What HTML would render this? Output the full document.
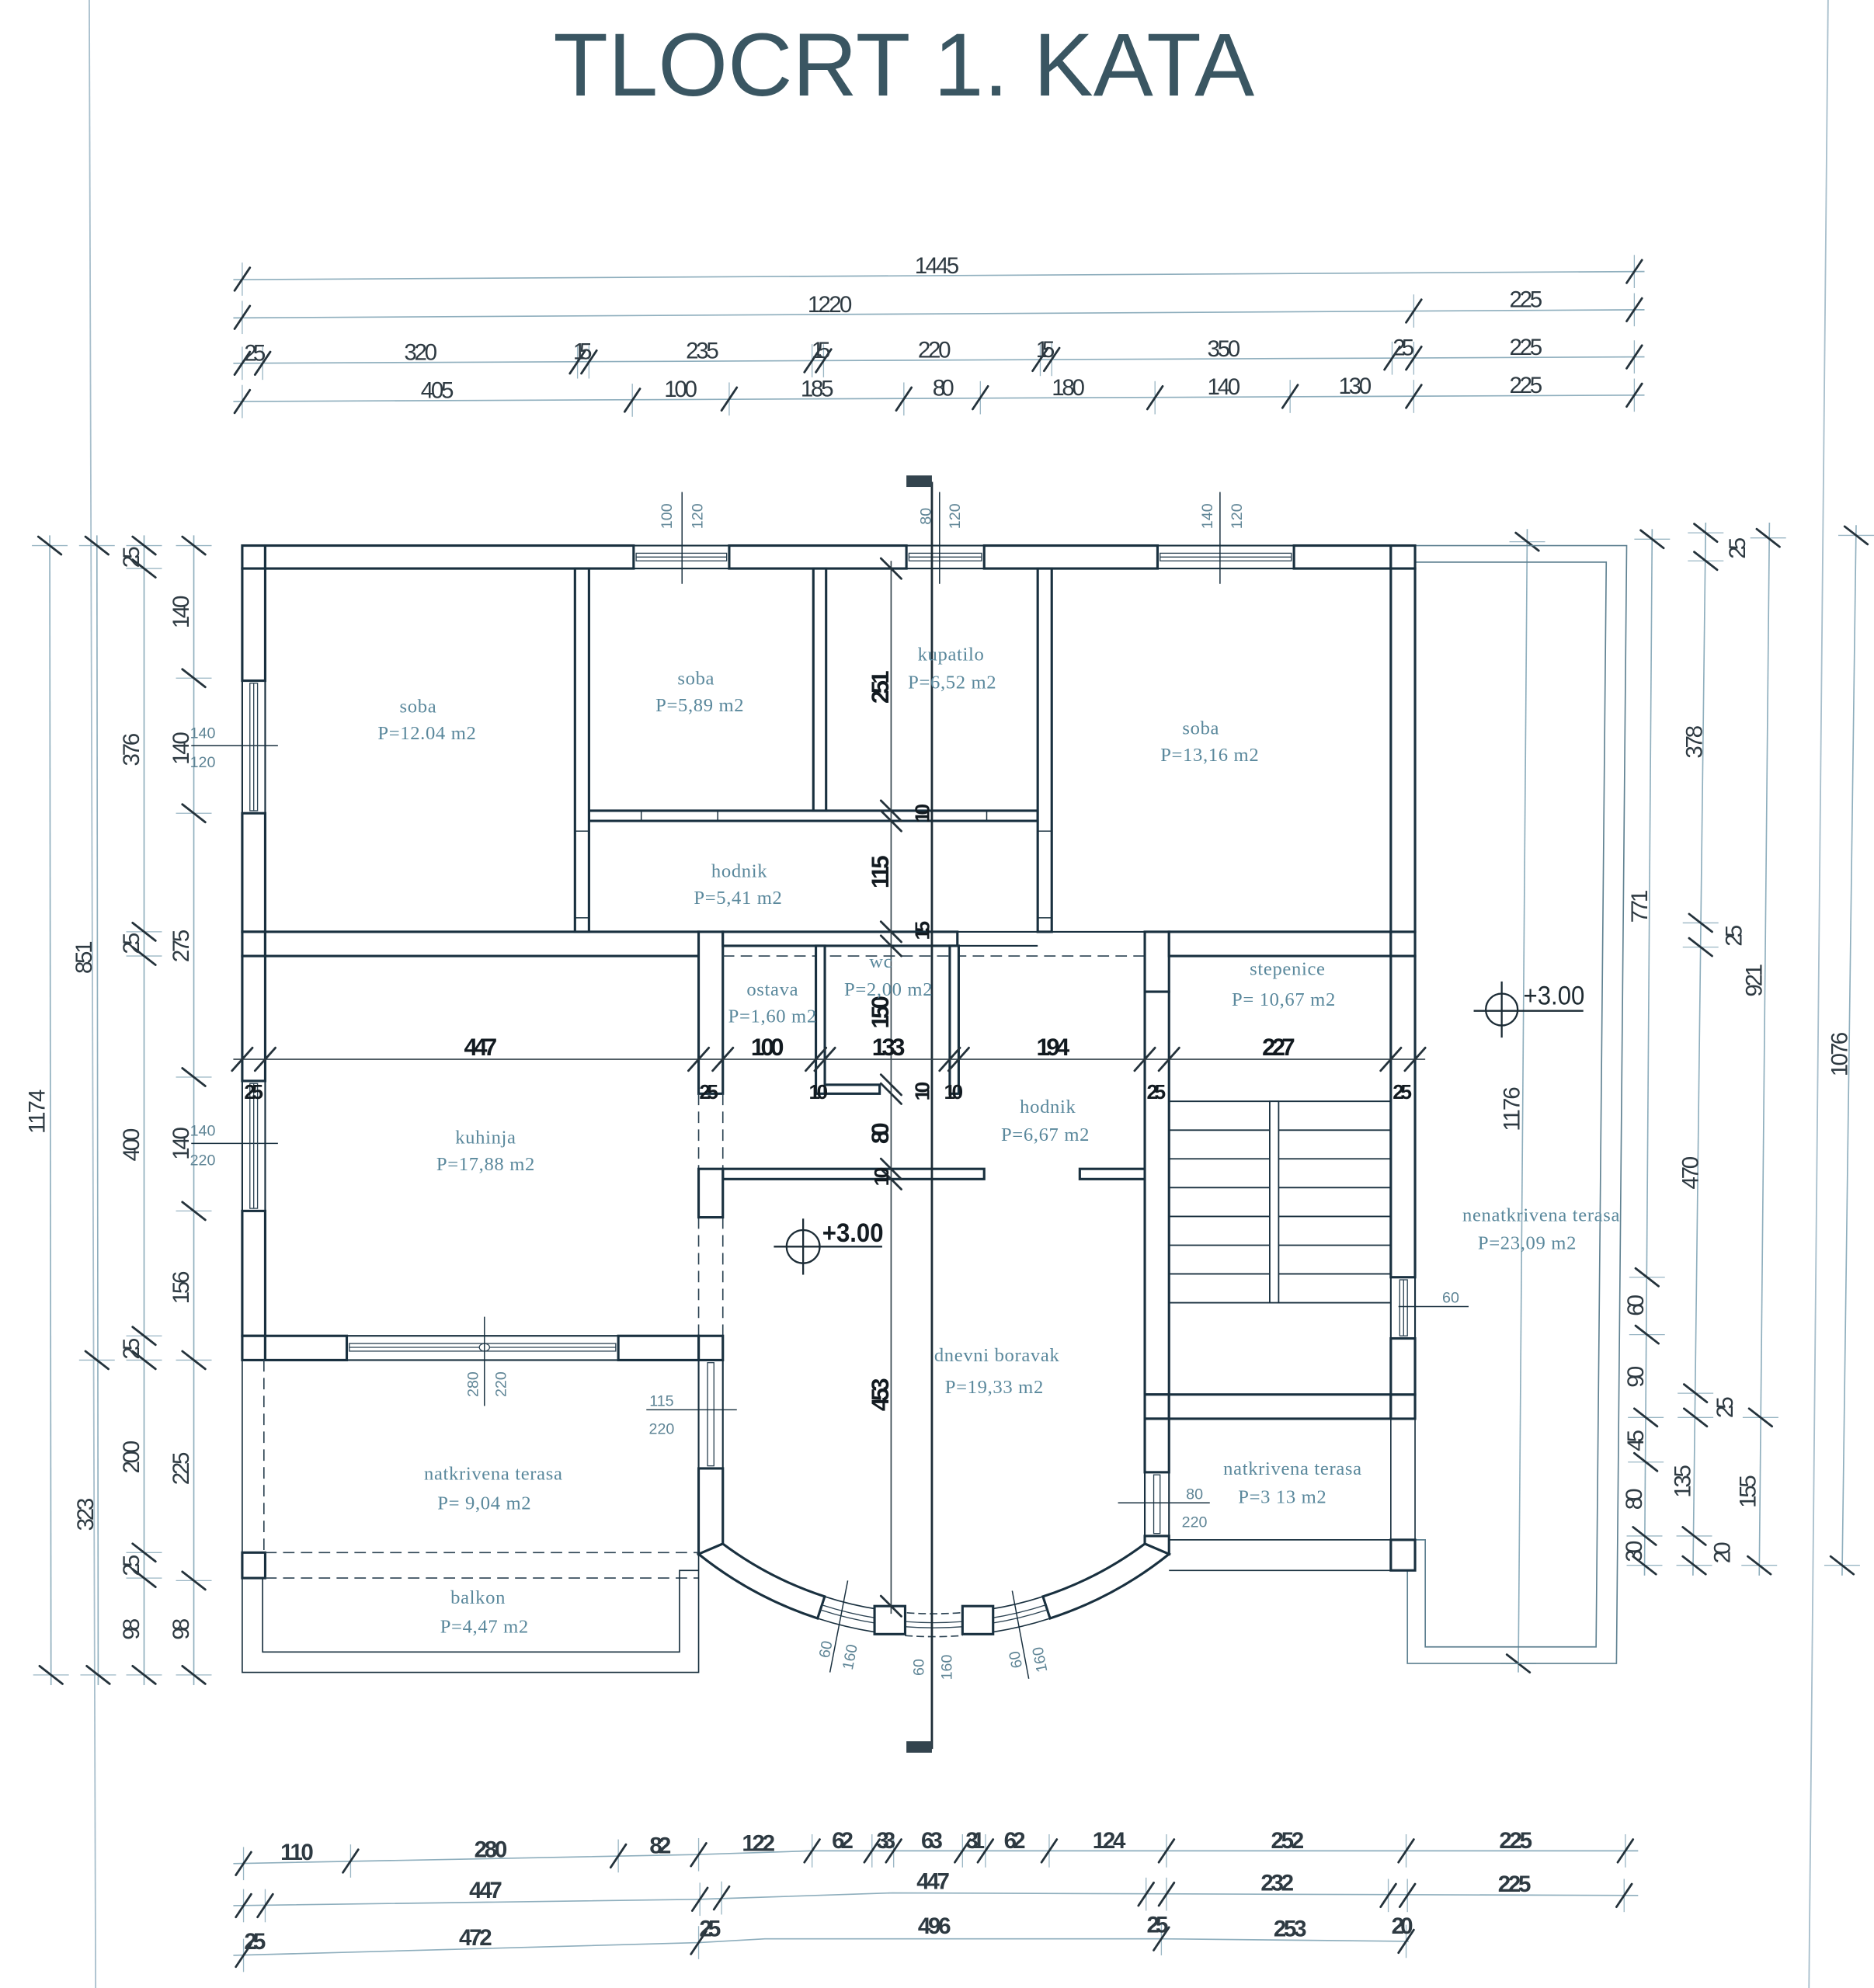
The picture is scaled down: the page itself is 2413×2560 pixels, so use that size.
<!DOCTYPE html>
<html><head><meta charset="utf-8"><title>TLOCRT 1. KATA</title>
<style>
html,body{margin:0;padding:0;background:#fff;width:2413px;height:2560px;overflow:hidden}
svg{display:block}
.fr{stroke:#a8bfcc;stroke-width:1.1;fill:none}
.dm{stroke:#8eaebd;stroke-width:1;fill:none}
.dk{stroke:#34434c;stroke-width:1;fill:none}
.ex{stroke:#9ab6c4;stroke-width:0.8}
.tk{stroke:#24323b;stroke-width:1.7;stroke-linecap:round}
.w{fill:#fff;stroke:#19303f;stroke-width:1.9}
.l{fill:none;stroke:#19303f;stroke-width:1.3}
.sa{fill:none;stroke:#2b4252;stroke-width:0.8}
.ds{fill:none;stroke:#2b4252;stroke-width:1;stroke-dasharray:9 5}
.tl{fill:none;stroke:#5f8191;stroke-width:1}
.n{font-family:"Liberation Sans Narrow","Liberation Sans",sans-serif;font-size:18px;fill:#2e3a42;text-anchor:middle}
.b{font-family:"Liberation Sans Narrow","Liberation Sans",sans-serif;font-size:19px;font-weight:bold;fill:#121a20;text-anchor:middle}
.bs{font-family:"Liberation Sans Narrow","Liberation Sans",sans-serif;font-size:16px;font-weight:bold;fill:#121a20;text-anchor:middle}
.r{font-family:"Liberation Serif",serif;font-size:15px;fill:#5a889c;text-anchor:middle;letter-spacing:0.4px}
.sm{font-family:"Liberation Sans",sans-serif;font-size:12px;fill:#5f8596;text-anchor:middle}
</style></head><body>
<svg xmlns="http://www.w3.org/2000/svg" width="2413" height="2560" viewBox="0 0 1470 1559.6">
<defs>
<g id="th"><line class="ex" x1="0" y1="-13" x2="0" y2="13"/><line class="tk" x1="-6" y1="9" x2="6" y2="-9"/></g>
<g id="tv"><line class="ex" x1="-14" y1="0" x2="14" y2="0"/><line class="tk" x1="-9" y1="-7" x2="9" y2="7"/></g>
<g id="tp"><line class="tk" x1="-8" y1="9" x2="8" y2="-9"/></g>
<g id="tq"><line class="tk" x1="-8" y1="-8" x2="8" y2="8"/></g>
</defs>
<rect x="0" y="0" width="1470" height="1560" fill="#fff"/>

<!-- page frame -->
<line class="fr" x1="70" y1="0" x2="75" y2="1560"/>
<line class="fr" x1="1434" y1="0" x2="1419" y2="1560"/>

<!-- title -->
<text x="434" y="75" font-family="Liberation Sans, sans-serif" font-size="70" fill="#3a5662" textLength="550" lengthAdjust="spacingAndGlyphs">TLOCRT 1. KATA</text>

<!-- ============ TOP DIMENSIONS ============ -->
<line class="dm" x1="183" y1="219.4" x2="1290" y2="213"/>
<line class="dm" x1="183" y1="249.4" x2="1290" y2="243"/>
<line class="dm" x1="183" y1="285" x2="1290" y2="280"/>
<line class="dm" x1="183" y1="315" x2="1290" y2="310"/>
<use href="#th" x="190" y="219"/><use href="#th" x="1282" y="213"/>
<use href="#th" x="190" y="249"/><use href="#th" x="1109" y="244"/><use href="#th" x="1282" y="243"/>
<use href="#th" x="190" y="285"/><use href="#th" x="206" y="285"/><use href="#th" x="453" y="284"/><use href="#th" x="462" y="284"/><use href="#th" x="637" y="283"/><use href="#th" x="646" y="283"/><use href="#th" x="816" y="282"/><use href="#th" x="825" y="282"/><use href="#th" x="1092" y="281"/><use href="#th" x="1109" y="281"/><use href="#th" x="1282" y="280"/>
<use href="#th" x="190" y="315"/><use href="#th" x="496" y="314"/><use href="#th" x="572" y="313"/><use href="#th" x="709" y="313"/><use href="#th" x="769" y="312"/><use href="#th" x="906" y="312"/><use href="#th" x="1012" y="311"/><use href="#th" x="1109" y="311"/><use href="#th" x="1282" y="310"/>
<text class="n" x="735" y="214.5" textLength="35">1445</text>
<text class="n" x="651" y="245" textLength="35">1220</text>
<text class="n" x="1197" y="241" textLength="26">225</text>
<text class="n" x="200" y="283" textLength="17">25</text>
<text class="n" x="330" y="282.5" textLength="26">320</text>
<text class="n" x="457" y="281.8" textLength="15">15</text>
<text class="n" x="551" y="281.3" textLength="26">235</text>
<text class="n" x="644" y="281" textLength="15">15</text>
<text class="n" x="733" y="280.5" textLength="26">220</text>
<text class="n" x="820" y="280.1" textLength="15">15</text>
<text class="n" x="960" y="279.5" textLength="26">350</text>
<text class="n" x="1101" y="278.8" textLength="17">25</text>
<text class="n" x="1197" y="278.4" textLength="26">225</text>
<text class="n" x="343" y="312.3" textLength="26">405</text>
<text class="n" x="534" y="311.4" textLength="26">100</text>
<text class="n" x="641" y="311" textLength="26">185</text>
<text class="n" x="740" y="310.5" textLength="17">80</text>
<text class="n" x="838" y="310" textLength="26">180</text>
<text class="n" x="960" y="309.5" textLength="26">140</text>
<text class="n" x="1063" y="309" textLength="26">130</text>
<text class="n" x="1197" y="308.4" textLength="26">225</text>

<!-- ============ LEFT DIMENSIONS ============ -->
<line class="dm" x1="39" y1="420" x2="40" y2="1322"/>
<line class="dm" x1="76" y1="420" x2="77" y2="1322"/>
<line class="dm" x1="113" y1="420" x2="113" y2="1322"/>
<line class="dm" x1="152" y1="420" x2="152" y2="1322"/>
<use href="#tv" x="39" y="428"/><use href="#tv" x="40" y="1314"/>
<use href="#tv" x="76" y="428"/><use href="#tv" x="76" y="1067"/><use href="#tv" x="77" y="1314"/>
<use href="#tv" x="113" y="428"/><use href="#tv" x="113" y="446"/><use href="#tv" x="113" y="731"/><use href="#tv" x="113" y="750"/><use href="#tv" x="113" y="1048"/><use href="#tv" x="113" y="1067"/><use href="#tv" x="113" y="1218"/><use href="#tv" x="113" y="1238"/><use href="#tv" x="113" y="1314"/>
<use href="#tv" x="152" y="428"/><use href="#tv" x="152" y="532"/><use href="#tv" x="152" y="638"/><use href="#tv" x="152" y="845"/><use href="#tv" x="152" y="950"/><use href="#tv" x="152" y="1067"/><use href="#tv" x="152" y="1240"/><use href="#tv" x="152" y="1314"/>
<text class="n" textLength="35" transform="translate(35,872) rotate(-90)">1174</text>
<text class="n" textLength="26" transform="translate(72,751) rotate(-90)">851</text>
<text class="n" textLength="26" transform="translate(73,1188) rotate(-90)">323</text>
<text class="n" textLength="17" transform="translate(109,437) rotate(-90)">25</text>
<text class="n" textLength="26" transform="translate(109,588) rotate(-90)">376</text>
<text class="n" textLength="17" transform="translate(109,740) rotate(-90)">25</text>
<text class="n" textLength="26" transform="translate(109,898) rotate(-90)">400</text>
<text class="n" textLength="17" transform="translate(109,1058) rotate(-90)">25</text>
<text class="n" textLength="26" transform="translate(109,1143) rotate(-90)">200</text>
<text class="n" textLength="17" transform="translate(109,1228) rotate(-90)">25</text>
<text class="n" textLength="17" transform="translate(109,1278) rotate(-90)">98</text>
<text class="n" textLength="26" transform="translate(148,480) rotate(-90)">140</text>
<text class="n" textLength="26" transform="translate(148,587) rotate(-90)">140</text>
<text class="n" textLength="26" transform="translate(148,742) rotate(-90)">275</text>
<text class="n" textLength="26" transform="translate(148,897) rotate(-90)">140</text>
<text class="n" textLength="26" transform="translate(148,1010) rotate(-90)">156</text>
<text class="n" textLength="26" transform="translate(148,1152) rotate(-90)">225</text>
<text class="n" textLength="17" transform="translate(148,1278) rotate(-90)">98</text>
<!-- left window small dims -->
<line class="l" x1="150" y1="585" x2="218" y2="585" style="stroke-width:0.9"/>
<text class="sm" x="159" y="579">140</text><text class="sm" x="159" y="602">120</text>
<line class="l" x1="150" y1="897" x2="218" y2="897" style="stroke-width:0.9"/>
<text class="sm" x="159" y="891">140</text><text class="sm" x="159" y="914">220</text>

<!-- ============ RIGHT DIMENSIONS ============ -->
<line class="dm" x1="1198" y1="415" x2="1191" y2="1312"/>
<use href="#tv" x="1198" y="425"/><use href="#tv" x="1191" y="1305"/>
<text class="n" textLength="35" transform="translate(1192,870) rotate(-90)">1176</text>
<line class="dm" x1="1296" y1="415" x2="1290" y2="1236"/>
<use href="#tv" x="1296" y="423"/><use href="#tv" x="1292" y="1002"/><use href="#tv" x="1292" y="1047"/><use href="#tv" x="1291" y="1112"/><use href="#tv" x="1291" y="1147"/><use href="#tv" x="1290" y="1205"/><use href="#tv" x="1290" y="1228"/>
<text class="n" textLength="26" transform="translate(1292,711) rotate(-90)">771</text>
<text class="n" textLength="17" transform="translate(1289,1024) rotate(-90)">60</text>
<text class="n" textLength="17" transform="translate(1289,1080) rotate(-90)">90</text>
<text class="n" textLength="17" transform="translate(1289,1130) rotate(-90)">45</text>
<text class="n" textLength="17" transform="translate(1288,1176) rotate(-90)">80</text>
<text class="n" textLength="17" transform="translate(1288,1217) rotate(-90)">30</text>
<line class="dm" x1="1338" y1="410" x2="1328" y2="1236"/>
<use href="#tv" x="1338" y="418"/><use href="#tv" x="1338" y="440"/><use href="#tv" x="1334" y="724"/><use href="#tv" x="1334" y="743"/><use href="#tv" x="1330" y="1093"/><use href="#tv" x="1330" y="1112"/><use href="#tv" x="1329" y="1205"/><use href="#tv" x="1329" y="1228"/>
<text class="n" textLength="17" transform="translate(1369,430) rotate(-90)">25</text>
<text class="n" textLength="26" transform="translate(1335,582) rotate(-90)">378</text>
<text class="n" textLength="17" transform="translate(1366,734) rotate(-90)">25</text>
<text class="n" textLength="26" transform="translate(1332,920) rotate(-90)">470</text>
<text class="n" textLength="17" transform="translate(1359,1104) rotate(-90)">25</text>
<text class="n" textLength="26" transform="translate(1326,1162) rotate(-90)">135</text>
<text class="n" textLength="17" transform="translate(1357,1218) rotate(-90)">20</text>
<line class="dm" x1="1388" y1="410" x2="1380" y2="1236"/>
<use href="#tv" x="1387" y="422"/><use href="#tv" x="1381" y="1112"/><use href="#tv" x="1380" y="1228"/>
<text class="n" textLength="26" transform="translate(1382,769) rotate(-90)">921</text>
<text class="n" textLength="26" transform="translate(1377,1170) rotate(-90)">155</text>
<line class="dm" x1="1456" y1="412" x2="1445" y2="1236"/>
<use href="#tv" x="1456" y="420"/><use href="#tv" x="1445" y="1228"/>
<text class="n" textLength="35" transform="translate(1449,827) rotate(-90)">1076</text>

<!-- ============ BOTTOM DIMENSIONS ============ -->
<polyline class="dm" points="183,1462 544,1455 636,1452 1285,1452"/>
<polyline class="dm" points="183,1495 549,1490 700,1485 1285,1487"/>
<polyline class="dm" points="183,1534 548,1524 600,1521 911,1521 1105,1523"/>
<use href="#th" x="191" y="1462"/><use href="#th" x="275" y="1460"/><use href="#th" x="485" y="1456"/><use href="#th" x="548" y="1455"/><use href="#th" x="637" y="1452"/><use href="#th" x="684" y="1452"/><use href="#th" x="701" y="1452"/><use href="#th" x="755" y="1452"/><use href="#th" x="773" y="1452"/><use href="#th" x="823" y="1452"/><use href="#th" x="915" y="1452"/><use href="#th" x="1103" y="1452"/><use href="#th" x="1275" y="1452"/>
<use href="#th" x="191" y="1495"/><use href="#th" x="208" y="1495"/><use href="#th" x="549" y="1490"/><use href="#th" x="566" y="1489"/><use href="#th" x="899" y="1486"/><use href="#th" x="915" y="1486"/><use href="#th" x="1089" y="1487"/><use href="#th" x="1104" y="1487"/><use href="#th" x="1274" y="1487"/>
<use href="#th" x="191" y="1534"/><use href="#th" x="548" y="1524"/><use href="#th" x="911" y="1521"/><use href="#th" x="1103" y="1523"/>
<g style="font-weight:bold">
<text class="n" x="233" y="1459" textLength="26">110</text>
<text class="n" x="385" y="1457" textLength="26">280</text>
<text class="n" x="518" y="1454" textLength="17">82</text>
<text class="n" x="595" y="1452" textLength="26">122</text>
<text class="n" x="661" y="1450" textLength="17">62</text>
<text class="n" x="695" y="1450" textLength="15">33</text>
<text class="n" x="731" y="1450" textLength="17">63</text>
<text class="n" x="765" y="1450" textLength="15">31</text>
<text class="n" x="796" y="1450" textLength="17">62</text>
<text class="n" x="870" y="1450" textLength="26">124</text>
<text class="n" x="1010" y="1450" textLength="26">252</text>
<text class="n" x="1189" y="1450" textLength="26">225</text>
<text class="n" x="381" y="1489" textLength="26">447</text>
<text class="n" x="732" y="1482" textLength="26">447</text>
<text class="n" x="1002" y="1483" textLength="26">232</text>
<text class="n" x="1188" y="1484" textLength="26">225</text>
<text class="n" x="200" y="1529" textLength="17">25</text>
<text class="n" x="373" y="1526" textLength="26">472</text>
<text class="n" x="557" y="1519" textLength="17">25</text>
<text class="n" x="733" y="1517" textLength="26">496</text>
<text class="n" x="908" y="1516" textLength="17">25</text>
<text class="n" x="1012" y="1519" textLength="26">253</text>
<text class="n" x="1100" y="1517" textLength="17">20</text>
</g>

<!-- ============ TERRACE OUTLINE (right) ============ -->
<polyline class="tl" points="1110,428 1276,428 1268,1305 1104,1305 1104,1232"/>
<polyline class="tl" points="1110,441 1260,441 1252,1292 1118,1292 1118,1208 1110,1208"/>

<!-- ============ BUILDING ============ -->
<path class="l" d="M190 428H1110 M208 446H1091 M190 428V1067 M208 446V1048 M1110 428V1113 M1091 446V1094"/>
<!-- top wall -->
<rect class="w" x="190" y="428" width="18" height="18"/>
<rect class="w" x="208" y="428" width="289" height="18"/>
<rect class="w" x="572" y="428" width="139" height="18"/>
<rect class="w" x="772" y="428" width="136" height="18"/>
<rect class="w" x="1015" y="428" width="76" height="18"/>
<rect class="w" x="1091" y="428" width="19" height="18"/>
<rect class="sa" x="499" y="434" width="71" height="6"/><line class="sa" x1="499" y1="437" x2="570" y2="437"/>
<rect class="sa" x="713" y="434" width="57" height="6"/><line class="sa" x1="713" y1="437" x2="770" y2="437"/>
<rect class="sa" x="910" y="434" width="103" height="6"/><line class="sa" x1="910" y1="437" x2="1013" y2="437"/>
<!-- top window dims -->
<line class="l" x1="535" y1="386" x2="535" y2="458" style="stroke-width:0.9"/>
<line class="l" x1="737" y1="386" x2="737" y2="458" style="stroke-width:0.9"/>
<line class="l" x1="957" y1="386" x2="957" y2="458" style="stroke-width:0.9"/>
<text class="sm" transform="translate(527,405) rotate(-90)">100</text>
<text class="sm" transform="translate(551,405) rotate(-90)">120</text>
<text class="sm" transform="translate(730,405) rotate(-90)">80</text>
<text class="sm" transform="translate(753,405) rotate(-90)">120</text>
<text class="sm" transform="translate(951,405) rotate(-90)">140</text>
<text class="sm" transform="translate(974,405) rotate(-90)">120</text>

<!-- left wall -->
<rect class="w" x="190" y="446" width="18" height="88"/>
<rect class="w" x="190" y="638" width="18" height="93"/>
<rect class="w" x="190" y="731" width="18" height="19"/>
<rect class="w" x="190" y="750" width="18" height="98"/>
<rect class="w" x="190" y="950" width="18" height="98"/>
<rect class="w" x="190" y="1048" width="18" height="19"/>
<rect class="sa" x="196" y="536" width="6" height="100"/><line class="sa" x1="199" y1="536" x2="199" y2="636"/>
<rect class="sa" x="196" y="850" width="6" height="98"/><line class="sa" x1="199" y1="850" x2="199" y2="948"/>

<!-- main horizontal wall -->
<rect class="w" x="208" y="731" width="340" height="19"/>
<rect class="w" x="548" y="731" width="19" height="127"/>
<path class="l" d="M567 731H898 M567 742H814"/>
<rect class="w" x="567" y="731" width="184" height="11"/>
<line class="ds" x1="567" y1="750" x2="898" y2="750"/>
<rect class="w" x="898" y="731" width="19" height="47"/>
<rect class="w" x="917" y="731" width="174" height="19"/>
<rect class="w" x="1091" y="731" width="19" height="19"/>

<!-- interior walls upper -->
<rect class="w" x="462" y="636" width="352" height="8"/>
<path class="l" d="M503 636V644 M563 636V644 M774 636V644" style="stroke-width:0.9"/>
<rect class="w" x="451" y="446" width="11" height="285"/>
<path class="l" d="M451 652H462 M451 720H462" style="stroke-width:0.9"/>
<rect class="w" x="638" y="446" width="10" height="190"/>
<rect class="w" x="814" y="446" width="11" height="285"/>
<path class="l" d="M814 652H825 M814 720H825" style="stroke-width:0.9"/>

<!-- ostava / wc -->
<rect class="w" x="640" y="742" width="7" height="116"/>
<rect class="w" x="647" y="851" width="43" height="7"/>
<rect class="w" x="745" y="742" width="7" height="116"/>

<!-- door lintel walls -->
<rect class="w" x="567" y="917" width="205" height="8"/>
<rect class="w" x="847" y="917" width="51" height="8"/>

<!-- left column below ostava -->
<path class="ds" d="M548 858V917 M567 858V917 M548 955V1048 M567 955V1048"/>
<rect class="w" x="548" y="917" width="19" height="38"/>
<rect class="w" x="548" y="1048" width="19" height="19"/>
<path class="l" d="M548 1067V1152 M567 1067V1152"/>
<rect class="sa" x="555" y="1069" width="5" height="81"/>
<polygon class="w" points="548,1152 567,1152 567,1211.1 548,1219.2"/>

<!-- kuhinja / terasa wall -->
<path class="l" d="M272 1048H485 M272 1067H485"/>
<rect class="w" x="208" y="1048" width="64" height="19"/>
<rect class="w" x="485" y="1048" width="63" height="19"/>
<rect class="sa" x="274" y="1054" width="209" height="6"/><line class="sa" x1="274" y1="1057" x2="483" y2="1057"/>
<ellipse cx="380" cy="1057" rx="4" ry="3" fill="#fff" stroke="#2b4252" stroke-width="0.8"/>
<line class="l" x1="380" y1="1033" x2="380" y2="1103" style="stroke-width:0.9"/>
<text class="sm" transform="translate(375,1086) rotate(-90)">280</text>
<text class="sm" transform="translate(397,1086) rotate(-90)">220</text>

<!-- stair wall (left of stairs) -->
<rect class="w" x="898" y="778" width="19" height="316"/>
<rect class="w" x="898" y="1094" width="19" height="19"/>
<rect class="w" x="898" y="1113" width="19" height="42"/>
<path class="l" d="M898 1155V1205 M917 1155V1205"/>
<rect class="sa" x="905" y="1157" width="5" height="46"/>
<polygon class="w" points="898,1205 917,1205 917,1219.2 898,1211.1"/>

<!-- stairs bottom wall & right wall -->
<rect class="w" x="917" y="1094" width="174" height="19"/>
<rect class="w" x="1091" y="1094" width="19" height="19"/>
<rect class="w" x="1091" y="446" width="19" height="285"/>
<rect class="w" x="1091" y="750" width="19" height="252"/>
<rect class="w" x="1091" y="1050" width="19" height="44"/>
<rect class="sa" x="1098" y="1004" width="6" height="44"/><line class="sa" x1="1101" y1="1004" x2="1101" y2="1048"/>
<path class="l" d="M1091 1113V1208 M1110 1113V1208" style="stroke-width:1"/>
<rect class="w" x="1091" y="1208" width="19" height="24"/>
<path class="l" d="M917 1208H1091 M917 1232H1091" style="stroke-width:1"/>

<!-- stairs -->
<path class="l" d="M917 864H1091 M917 886.6H1091 M917 909.1H1091 M917 931.7H1091 M917 954.3H1091 M917 976.9H1091 M917 999.4H1091 M917 1022H1091" style="stroke-width:1.1"/>
<rect class="w" x="996" y="864" width="7" height="158" style="stroke-width:1.1"/>

<!-- left lower: terrace and balkon -->
<line class="l" x1="190" y1="1067" x2="190" y2="1218" style="stroke-width:1"/>
<line class="ds" x1="207" y1="1067" x2="207" y2="1218"/>
<rect class="w" x="190" y="1218" width="18" height="20"/>
<path class="ds" d="M208 1218H548 M208 1238H548"/>
<polyline class="l" points="190,1238 190,1312 548,1312 548,1219" style="stroke-width:1"/>
<polyline class="l" points="206,1238 206,1296 533,1296 533,1232 548,1232" style="stroke-width:1"/>

<!-- bottom arc -->
<path class="w" d="M548 1219.2 A295 295 0 0 0 641.3 1269.6 L646.9 1252.5 A277 277 0 0 1 567 1211.1 Z"/>
<path class="w" d="M823.7 1269.6 A295 295 0 0 0 917 1219.2 L898 1211.1 A277 277 0 0 1 818.1 1252.5 Z"/>
<path class="l" d="M641.3 1269.6 A295 295 0 0 0 686.4 1280.4 M646.9 1252.5 A277 277 0 0 0 689.2 1262.6 M778.6 1280.4 A295 295 0 0 0 823.7 1269.6 M775.8 1262.6 A277 277 0 0 0 818.1 1252.5" style="stroke-width:1"/>
<path class="ds" d="M709.9 1283.1 A295 295 0 0 0 755.1 1283.1 M711.3 1265.2 A277 277 0 0 0 753.7 1265.2" style="stroke-dasharray:6 3"/>
<path class="sa" d="M644.7 1259.1 A284 284 0 0 0 688.1 1269.5 M643.5 1262.9 A288 288 0 0 0 687.5 1273.5 M710.7 1272.2 A284 284 0 0 0 754.3 1272.2 M710.4 1276.2 A288 288 0 0 0 754.6 1276.2 M776.9 1269.5 A284 284 0 0 0 820.3 1259.1 M777.5 1273.5 A288 288 0 0 0 821.5 1262.9"/>
<rect class="w" x="686" y="1260" width="24" height="22"/>
<rect class="w" x="755" y="1260" width="24" height="22"/>
<line class="l" x1="665" y1="1240" x2="651" y2="1312" style="stroke-width:0.9"/>
<line class="l" x1="794" y1="1248" x2="807" y2="1317" style="stroke-width:0.9"/>
<text class="sm" transform="translate(648,1294) rotate(-79)" dominant-baseline="central">60</text>
<text class="sm" transform="translate(667,1300) rotate(-79)" dominant-baseline="central">160</text>
<text class="sm" transform="translate(721,1308) rotate(-90)" dominant-baseline="central">60</text>
<text class="sm" transform="translate(743,1308) rotate(-90)" dominant-baseline="central">160</text>
<text class="sm" transform="translate(797,1302) rotate(-101)" dominant-baseline="central">60</text>
<text class="sm" transform="translate(816,1302) rotate(-101)" dominant-baseline="central">160</text>

<!-- door/window small dims -->
<line class="l" x1="507" y1="1106" x2="578" y2="1106" style="stroke-width:0.9"/>
<text class="sm" x="519" y="1103">115</text><text class="sm" x="519" y="1125">220</text>
<line class="l" x1="877" y1="1179" x2="949" y2="1179" style="stroke-width:0.9"/>
<text class="sm" x="937" y="1176">80</text><text class="sm" x="937" y="1198">220</text>
<line class="l" x1="1097" y1="1025" x2="1152" y2="1025" style="stroke-width:0.9"/>
<text class="sm" x="1138" y="1022">60</text>

<!-- axis line -->
<line x1="731" y1="378" x2="731" y2="1372" stroke="#1c2c36" stroke-width="1.7"/>
<rect x="711" y="373" width="20" height="9" fill="#33444e"/>
<rect x="711" y="1366" width="20" height="9" fill="#33444e"/>

<!-- inner vertical dimension -->
<line class="dk" x1="699" y1="440" x2="699" y2="1266"/>
<use href="#tq" x="699" y="446"/><use href="#tq" x="699" y="636"/><use href="#tq" x="699" y="644"/><use href="#tq" x="699" y="731"/><use href="#tq" x="699" y="742"/><use href="#tq" x="699" y="851"/><use href="#tq" x="699" y="858"/><use href="#tq" x="699" y="917"/><use href="#tq" x="699" y="925"/><use href="#tq" x="699" y="1260"/>
<text class="b" textLength="26" transform="translate(697,539) rotate(-90)">251</text>
<text class="b" textLength="26" transform="translate(697,684) rotate(-90)">115</text>
<text class="b" textLength="26" transform="translate(697,794) rotate(-90)">150</text>
<text class="b" textLength="17" transform="translate(697,889) rotate(-90)">80</text>
<text class="b" textLength="26" transform="translate(697,1094) rotate(-90)">453</text>
<text class="bs" textLength="15" transform="translate(729,638) rotate(-90)">10</text>
<text class="bs" textLength="15" transform="translate(729,730) rotate(-90)">15</text>
<text class="bs" textLength="15" transform="translate(729,856) rotate(-90)">10</text>
<text class="bs" textLength="15" transform="translate(697,923) rotate(-90)">10</text>

<!-- inner horizontal dimension -->
<line class="dk" x1="183" y1="831" x2="1118" y2="831"/>
<use href="#tp" x="190" y="831"/><use href="#tp" x="208" y="831"/><use href="#tp" x="548" y="831"/><use href="#tp" x="567" y="831"/><use href="#tp" x="640" y="831"/><use href="#tp" x="647" y="831"/><use href="#tp" x="745" y="831"/><use href="#tp" x="752" y="831"/><use href="#tp" x="898" y="831"/><use href="#tp" x="917" y="831"/><use href="#tp" x="1091" y="831"/><use href="#tp" x="1110" y="831"/>
<text class="b" x="377" y="828" textLength="26">447</text>
<text class="b" x="602" y="828" textLength="26">100</text>
<text class="b" x="697" y="828" textLength="26">133</text>
<text class="b" x="826" y="828" textLength="26">194</text>
<text class="b" x="1003" y="828" textLength="26">227</text>
<text class="bs" x="199" y="862" textLength="15">25</text>
<text class="bs" x="556" y="862" textLength="15">25</text>
<text class="bs" x="642" y="862" textLength="15">10</text>
<text class="bs" x="748" y="862" textLength="15">10</text>
<text class="bs" x="907" y="862" textLength="15">25</text>
<text class="bs" x="1100" y="862" textLength="15">25</text>

<!-- level markers -->
<g stroke="#1c2c36" stroke-width="1.4" fill="none">
<circle cx="630" cy="978" r="13"/>
<line x1="607" y1="978" x2="692" y2="978"/>
<line x1="630" y1="956" x2="630" y2="1000"/>
<circle cx="1178" cy="792" r="12.5"/>
<line x1="1156" y1="793" x2="1242" y2="793"/>
<line x1="1178" y1="770" x2="1178" y2="814"/>
</g>
<text x="645" y="974" font-family="Liberation Sans Narrow, Liberation Sans, sans-serif" font-size="21" font-weight="bold" fill="#141c22" textLength="48" lengthAdjust="spacingAndGlyphs">+3.00</text>
<text x="1195" y="788" font-family="Liberation Sans Narrow, Liberation Sans, sans-serif" font-size="21" fill="#1e2a31" textLength="48" lengthAdjust="spacingAndGlyphs">+3.00</text>

<!-- room labels -->
<text class="r" x="328" y="559">soba</text>
<text class="r" x="335" y="580">P=12.04 m2</text>
<text class="r" x="546" y="537">soba</text>
<text class="r" x="549" y="558">P=5,89 m2</text>
<text class="r" x="746" y="518">kupatilo</text>
<text class="r" x="747" y="540">P=6,52 m2</text>
<text class="r" x="942" y="576">soba</text>
<text class="r" x="949" y="597">P=13,16 m2</text>
<text class="r" x="580" y="688">hodnik</text>
<text class="r" x="579" y="709">P=5,41 m2</text>
<text class="r" x="606" y="781">ostava</text>
<text class="r" x="606" y="802">P=1,60 m2</text>
<text class="r" x="691" y="759">wc</text>
<text class="r" x="697" y="781">P=2,00 m2</text>
<text class="r" x="1010" y="765">stepenice</text>
<text class="r" x="1007" y="789">P= 10,67 m2</text>
<text class="r" x="822" y="873">hodnik</text>
<text class="r" x="820" y="895">P=6,67 m2</text>
<text class="r" x="381" y="897">kuhinja</text>
<text class="r" x="381" y="918">P=17,88 m2</text>
<text class="r" x="1209" y="958">nenatkrivena terasa</text>
<text class="r" x="1198" y="980">P=23,09 m2</text>
<text class="r" x="782" y="1068">dnevni boravak</text>
<text class="r" x="780" y="1093">P=19,33 m2</text>
<text class="r" x="387" y="1161">natkrivena terasa</text>
<text class="r" x="380" y="1184">P= 9,04 m2</text>
<text class="r" x="1014" y="1157">natkrivena terasa</text>
<text class="r" x="1006" y="1179">P=3 13 m2</text>
<text class="r" x="375" y="1258">balkon</text>
<text class="r" x="380" y="1281">P=4,47 m2</text>
</svg>
</body></html>
